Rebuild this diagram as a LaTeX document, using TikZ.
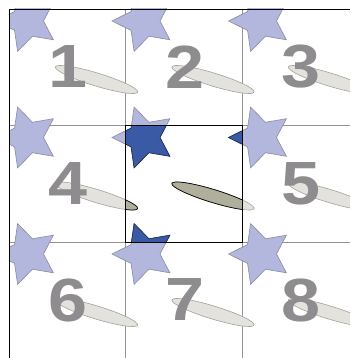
\documentclass[tikz,border=0pt]{standalone}
\usepackage{fontspec}
\setmainfont{Liberation Sans}
\usetikzlibrary{shapes.geometric}

\definecolor{starlight}{HTML}{B3B6DD}
\definecolor{starline}{HTML}{8A8B9C}
\definecolor{stardark}{HTML}{3A5AA6}
\definecolor{rodlight}{HTML}{E4E2DC}
\definecolor{rodline}{HTML}{A2A19C}
\definecolor{roddark}{HTML}{B0AF9B}
\definecolor{labelgray}{HTML}{8E8C8E}

\begin{document}
\begin{tikzpicture}[
    x=1pt, y=-1pt,
    gridline/.style={draw=gray!85, line width=0.8pt},
    imgstar/.style={star, star points=5, star point ratio=2, minimum size=64pt, inner sep=0pt, shape border rotate=90, draw=starline, fill=starlight, line width=0.6pt},
    mainstar/.style={imgstar, draw=stardark!45!black, fill=stardark},
    imgrod/.style={draw=rodline, fill=rodlight, line width=0.6pt},
    mainrod/.style={draw=black, fill=roddark, line width=0.7pt},
    celllabel/.style={text=labelgray, font=\fontsize{61}{61}\selectfont\bfseries, inner sep=0pt},
]

    \useasboundingbox (0,0) rectangle (350,358);

    \begin{scope}
    \clip (9,9) rectangle (350,358);

    % grid
    \foreach \k in {1,2} {
        \draw[gridline] ({9+116.5*\k},9) -- ({9+116.5*\k},358);
        \draw[gridline] (9,{9+116.5*\k}) -- (350,{9+116.5*\k});
    }

    % periodic images
    \foreach \i in {0,1,2} {
        \foreach \j in {0,1,2} {
            \pgfmathsetmacro\cx{9+116.5*\i}
            \pgfmathsetmacro\cy{9+116.5*\j}
            \draw[imgrod, rotate around={-17:({\cx+87.5},{\cy+70.5})}]
                ({\cx+87.5},{\cy+70.5}) ellipse [x radius=43, y radius=6.5];
            \node (star\i\j) [imgstar] at ({\cx+18.5},{\cy+12}) {};
        }
    }

    % central box, wrapped
    \begin{scope}
        \clip (125.5,125.5) rectangle (242,242);
        \foreach \i in {0,1,2} {
            \foreach \j in {0,1,2} {
                \pgfmathsetmacro\cx{9+116.5*\i}
                \pgfmathsetmacro\cy{9+116.5*\j}
                \draw[mainrod, rotate around={-17:({\cx+87.5},{\cy+70.5})}]
                    ({\cx+87.5},{\cy+70.5}) ellipse [x radius=43, y radius=6.5];
                \node (main\i\j) [mainstar] at ({\cx+18.5},{\cy+12}) {};
            }
        }
    \end{scope}
    \end{scope}

    \draw[black, line width=0.8pt] (125.5,125.5) rectangle (242,242);
    \draw[black, line width=0.8pt] (9,358) -- (9,9) -- (350,9);

    % cell numbers
    \foreach \i/\j/\n in {0/0/1, 1/0/2, 2/0/3, 0/1/4, 2/1/5, 0/2/6, 1/2/7, 2/2/8} {
        \node (num\n) [celllabel] at ({9+116.5*\i+59.5},{9+116.5*\j+58}) {\scalebox{1.15}[1]{\n}};
    }

\end{tikzpicture}
\end{document}
